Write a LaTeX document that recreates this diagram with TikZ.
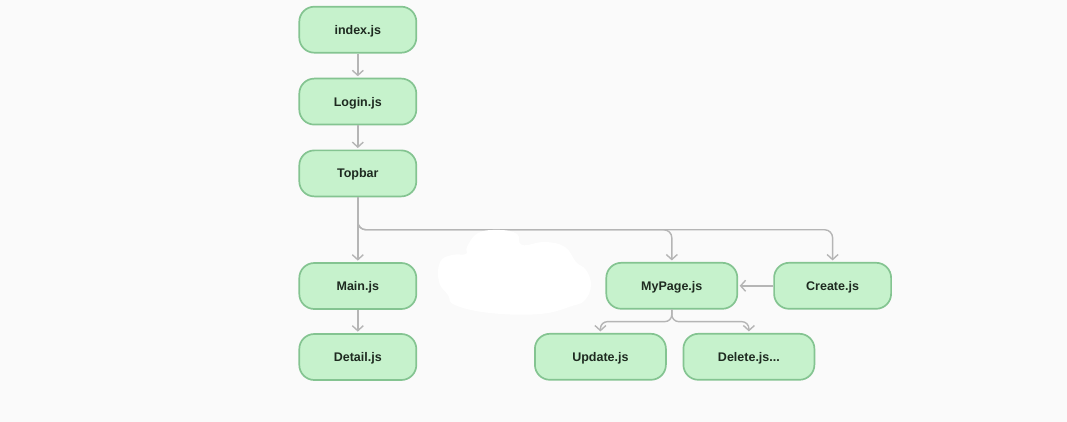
\documentclass[tikz,border=0pt]{standalone}
\usepackage{fontspec}
\setmainfont{Liberation Sans}
\usetikzlibrary{arrows.meta}
\definecolor{bgc}{HTML}{FAFAFA}
\definecolor{boxfill}{HTML}{C6F2CC}
\definecolor{boxdraw}{HTML}{84C491}
\definecolor{txt}{HTML}{1E2A20}
\definecolor{conncol}{HTML}{B5B5B5}
\tikzset{
  box/.style={draw=boxdraw, line width=1.7pt, fill=boxfill, rounded corners=15pt,
    minimum height=46pt, text=txt, font=\bfseries\fontsize{12.5}{14}\selectfont,
    inner sep=0pt, text height=9pt, text depth=0pt},
  narrow/.style={box, minimum width=117pt},
  wide/.style={box, minimum width=131pt},
  conn/.style={draw=conncol, line width=1.4pt, rounded corners=8pt,
    -{Straight Barb[length=5pt,width=11pt,line width=1.4pt]}, shorten >=1.5pt}
}
\begin{document}
\begin{tikzpicture}[x=1pt,y=-1pt]
\fill[bgc] (0,0) rectangle (1067,422);
\useasboundingbox (0,0) rectangle (1067,422);

\node[narrow] (index) at (357.8,29.7) {index.js};
\node[narrow] (login) at (357.8,101.6) {Login.js};
\node[narrow] (topbar) at (357.8,173.4) {Topbar};
\node[narrow] (main) at (357.8,286) {Main.js};
\node[narrow] (detail) at (357.8,357) {Detail.js};
\node[wide] (mypage) at (671.8,285.8) {MyPage.js};
\node[narrow] (create) at (832.6,285.8) {Create.js};
\node[wide] (update) at (600.4,356.8) {Update.js};
\node[wide] (delete) at (748.9,356.8) {Delete.js...};

\draw[conn] (index) -- (login);
\draw[conn] (login) -- (topbar);
\draw[conn] (topbar) -- (main);
\draw[conn] (main) -- (detail);
\draw[conn] (topbar.south) -- ++(0,32.5) -| (mypage.north);
\draw[conn] (topbar.south) -- ++(0,32.5) -| (create.north);
\draw[conn] (create.west) -- (mypage.east);
\draw[conn, rounded corners=7pt] (mypage.south) -- ++(0,12) -| (update.north);
\draw[conn, rounded corners=7pt] (mypage.south) -- ++(0,12) -| (delete.north);

% white blotch
\fill[white] plot[smooth cycle, tension=0.7] coordinates {
  (467,247) (478,233) (500,230) (517,234) (522,245) (545,242) (565,247)
  (576,262) (586,270) (591,285) (585,300) (572,306) (540,314) (490,313)
  (455,305) (448,295) (439,282) (440,262) (452,255) (466,254)};
\end{tikzpicture}
\end{document}
